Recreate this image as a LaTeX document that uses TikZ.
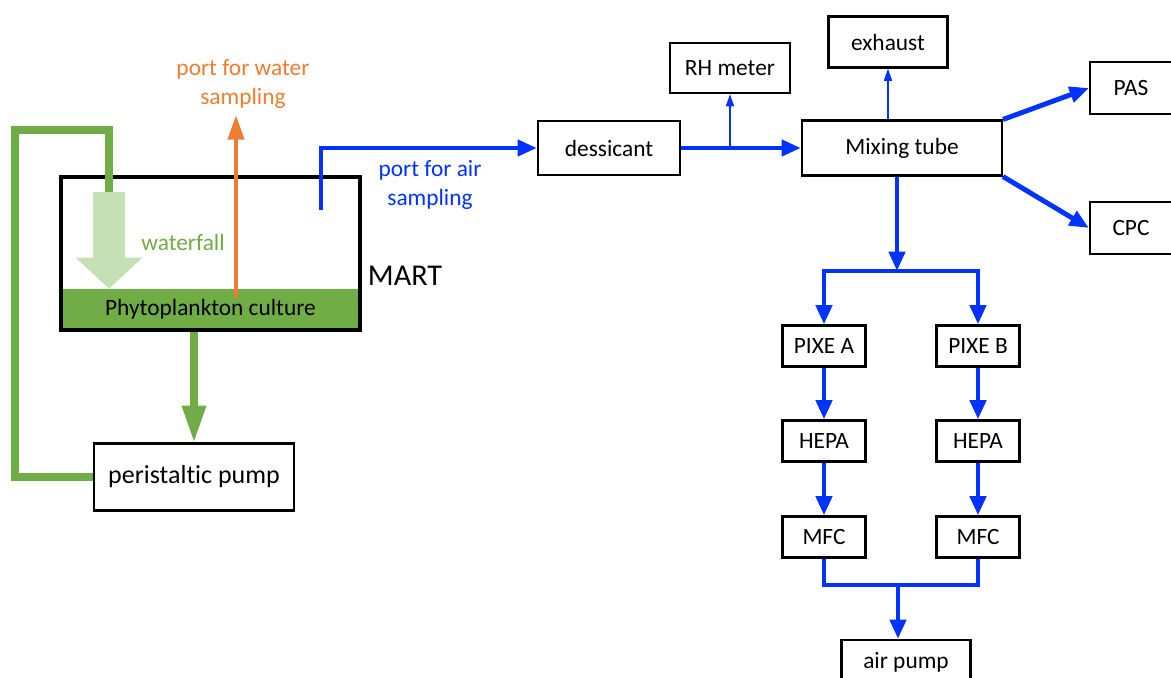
\documentclass[tikz,border=0pt]{standalone}
\usepackage{fontspec}
\setmainfont{Carlito}[Ligatures=NoCommon]
\usetikzlibrary{arrows.meta,calc,positioning}
\definecolor{paletteBlue}{HTML}{0033FF}
\definecolor{paletteGreen}{HTML}{70AD47}
\definecolor{paletteLight}{HTML}{C5E0B4}
\definecolor{paletteOrange}{HTML}{ED7D31}

\begin{document}
\begin{tikzpicture}[
  x=0.02cm, y=-0.02cm,
  font=\fontsize{13.3}{16.4}\selectfont,
  box/.style={draw=black, line width=1.2pt, fill=white, inner sep=0pt, align=center},
  unitbox/.style={box, minimum width=1.66cm, minimum height=0.82cm},
  tank/.style={draw=black, line width=2pt, minimum width=5.98cm, minimum height=3.06cm, inner sep=0pt},
  culture/.style={fill=paletteGreen, minimum width=5.94cm, minimum height=0.82cm, inner sep=0pt},
  label/.style={align=center},
  airflow/.style={-{Triangle[width=9pt, length=11pt]}, line width=2.8pt, draw=paletteBlue, line join=miter},
  airpipe/.style={line width=2.8pt, draw=paletteBlue, line join=miter},
  airthin/.style={-{Triangle[width=4.5pt, length=7pt]}, line width=1.1pt, draw=paletteBlue},
  waterflow/.style={-{Triangle[width=13pt, length=21pt]}, line width=4pt, draw=paletteGreen},
  waterpipe/.style={line width=4pt, draw=paletteGreen, line join=miter},
  fall/.style={-{Triangle[width=1.3cm, length=0.62cm]}, line width=0.66cm, draw=paletteLight},
  sample/.style={-{Triangle[width=9pt, length=14pt]}, line width=2.8pt, draw=paletteOrange}
]
\useasboundingbox (0,0) rectangle (1171,677);

% MART tank
\node[culture] (culture) at (210.5,309.5) {Phytoplankton culture};
\node[tank] (tank) at (210.5,253.5) {};
\node[font=\fontsize{17.2}{20}\selectfont, anchor=west] (mart) at (tank.east |- 0,276) {MART};

\node[box, minimum width=4cm, minimum height=1.34cm, font=\fontsize{14.8}{17}\selectfont]
  (pump) at (194,477) {peristaltic pump};

\coordinate (fallTop) at (109,192);
\draw[waterpipe] (pump.west) -| (15,130) -| (fallTop);
\draw[fall] (fallTop) -- (fallTop |- culture.north);
\node[label, text=paletteGreen] (fallLab) at (183,242) {waterfall};
\draw[waterflow] (pump.north |- tank.south) -- (pump.north);

\coordinate (waterPort) at (236,298);
\coordinate (waterTop) at (236,115);
\node[label, text=paletteOrange] (waterLab) at (243,84) {port for water\\sampling};
\draw[sample] (waterPort) -- (waterTop);

% air line
\coordinate (airPort) at (321,210);
\node[label, text=paletteBlue] (airLab) at (430,185) {port for air\\sampling};
\node[box, minimum width=2.84cm, minimum height=1.08cm] (dess) at (609,148) {dessicant};
\node[box, minimum width=4cm, minimum height=1.1cm] (mix) at (902,148) {Mixing tube};
\node[box, minimum width=2.4cm, minimum height=1cm] (rh) at (730,68) {RH meter};
\node[box, minimum width=2.38cm, minimum height=1.02cm] (exhaust) at (888,42) {exhaust};
\node[box, minimum width=1.64cm, minimum height=1.04cm] (pas) at (1131,88) {PAS};
\node[box, minimum width=1.64cm, minimum height=1.04cm] (cpc) at (1131,228) {CPC};

\draw[airflow] (airPort) |- (dess.west);
\draw[airflow] (dess.east) -- (mix.west);
\draw[airthin] (rh.south |- dess.east) -- (rh.south);
\draw[airthin] (exhaust.south |- mix.north) -- (exhaust.south);
\draw[airflow] (mix.north east) -- (pas.west);
\draw[airflow] (mix.south east) -- (cpc.west);

% two sampling lines
\coordinate (split) at (897,271);
\foreach \c/\x in {A/824,B/978} {
  \node[unitbox] (pixe\c) at (\x,346) {PIXE \c};
  \node[unitbox] (hepa\c) at (\x,441) {HEPA};
  \node[unitbox] (mfc\c) at (\x,537) {MFC};
  \draw[airflow] (split) -| (pixe\c.north);
  \draw[airflow] (pixe\c) -- (hepa\c);
  \draw[airflow] (hepa\c) -- (mfc\c);
}
\draw[airflow] (split |- mix.south) -- (split);

\coordinate (merge) at (898,585);
\node[box, minimum width=2.58cm, minimum height=0.88cm] (airpump) at (906,662) {air pump};
\draw[airpipe] (mfcA.south) |- (mfcB.south |- merge) -- (mfcB.south);
\draw[airflow] (merge) -- (merge |- airpump.north);
\end{tikzpicture}
\end{document}
